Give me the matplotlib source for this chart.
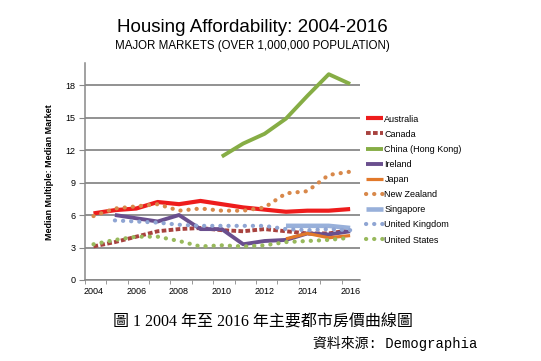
import numpy as np
import matplotlib
matplotlib.use('Agg')
import matplotlib.pyplot as plt

years = list(range(2004, 2017))

australia = [6.15, 6.45, 6.6, 7.2, 7.0, 7.3, 7.0, 6.7, 6.5, 6.3, 6.4, 6.4, 6.55]
canada = [3.1, 3.5, 4.0, 4.5, 4.7, 4.8, 4.6, 4.5, 4.7, 4.5, 4.3, 4.3, 4.6]
hong_kong = [None, None, None, None, None, None, 11.4, 12.6, 13.5, 14.9, 17.0, 19.0, 18.1]
ireland = [None, 6.0, 5.7, 5.4, 6.0, 4.7, 4.7, 3.3, 3.6, 3.7, 4.3, 4.2, 4.5]
japan = [None] * 9 + [3.8, 4.3, 3.9, 4.1]
new_zealand = [5.9, 6.6, 6.8, 7.0, 6.4, 6.6, 6.4, 6.4, 6.7, 8.0, 8.2, 9.7, 10.0]
singapore = [None] * 9 + [5.0, 5.0, 5.0, 4.8]
uk = [None, 5.5, 5.4, 5.3, 5.1, 5.0, 5.0, 5.0, 5.0, 4.7, 4.6, 4.7, 4.6]
us = [3.3, 3.7, 4.0, 4.0, 3.6, 3.1, 3.2, 3.1, 3.2, 3.5, 3.6, 3.7, 3.9]

series = [
    ('Australia', australia, '#EE1C1C', '-'),
    ('Canada', canada, '#A8423F', (0, (1.2, 0.6))),
    ('China (Hong Kong)', hong_kong, '#86AD45', '-'),
    ('Ireland', ireland, '#6A4F8E', '-'),
    ('Japan', japan, '#E2792A', '-'),
    ('New Zealand', new_zealand, '#D8884A', (0, (0.05, 1.9))),
    ('Singapore', singapore, '#98B0DA', '-'),
    ('United Kingdom', uk, '#8FA5D3', (0, (0.05, 1.9))),
    ('United States', us, '#98B95C', (0, (0.05, 1.9))),
]
widths = [3.0, 2.8, 2.8, 2.8, 2.3, 3.0, 3.3, 3.0, 3.0]

plt.rcParams['font.family'] = ['Liberation Sans', 'DejaVu Sans']

fig = plt.figure(figsize=(5.41, 3.61), dpi=100)
ax = fig.add_axes([0.157, 0.2244, 0.508, 0.60])

for (name, vals, col, ls), lw in zip(series, widths):
    y = np.array([np.nan if v is None else v for v in vals], dtype=float)
    cap = 'round' if isinstance(ls, tuple) and ls[1][0] < 0.1 else 'butt'
    ax.plot(years, y, color=col, lw=lw, linestyle=ls, label=name,
            dash_capstyle=cap, solid_capstyle='butt')

ax.set_xlim(2003.6, 2016.45)
ax.set_ylim(0, 20)
ax.set_yticks(range(0, 19, 3))
ax.set_xticks(range(2004, 2017, 2))
ax.set_xticks(np.arange(2003.6, 2016.5, 1.0), minor=True)
ax.tick_params(axis='x', which='major', length=0, labelsize=6.5, pad=5)
ax.tick_params(axis='x', which='minor', length=3, color='#888888')
ax.tick_params(axis='y', length=4, color='#888888', labelsize=6.5, pad=3)
ax.yaxis.grid(True, color='#7f7f7f', lw=1.2)
ax.set_axisbelow(True)
for s in ['top', 'right']:
    ax.spines[s].set_visible(False)
ax.spines['left'].set_color('#888888')
ax.spines['bottom'].set_color('#888888')
ax.spines['left'].set_linewidth(1.1)
ax.spines['bottom'].set_linewidth(1.1)
ax.set_ylabel('Median Multiple: Median Market', fontsize=6.5, fontweight='bold', labelpad=8)

leg = ax.legend(loc='upper left', bbox_to_anchor=(361 / 541, 1 - 110 / 361),
                bbox_transform=fig.transFigure, frameon=False, fontsize=6.5,
                handlelength=1.9, handletextpad=0.2, labelspacing=0.68, borderpad=0)
for t in leg.get_texts():
    t.set_family(['Liberation Sans Narrow', 'Liberation Sans'])

fig.text(0.467, 1 - 28 / 361, 'Housing Affordability: 2004-2016', ha='center', va='center', fontsize=13.5)
fig.text(0.467, 1 - 46 / 361, 'MAJOR MARKETS (OVER 1,000,000 POPULATION)', ha='center', va='center', fontsize=8.3)

fig.text(113 / 541, 1 - 322 / 361, '圖 1 2004 年至 2016 年主要都市房價曲線圖', ha='left', va='center',
         fontsize=11.5, family=['Liberation Serif', 'Noto Sans CJK TC'])
fig.text(313 / 541, 1 - 343 / 361, '資料來源: Demographia', ha='left', va='center',
         fontsize=10, family=['Liberation Mono', 'Noto Sans CJK TC'])

fig.savefig('out.png', dpi=100)
